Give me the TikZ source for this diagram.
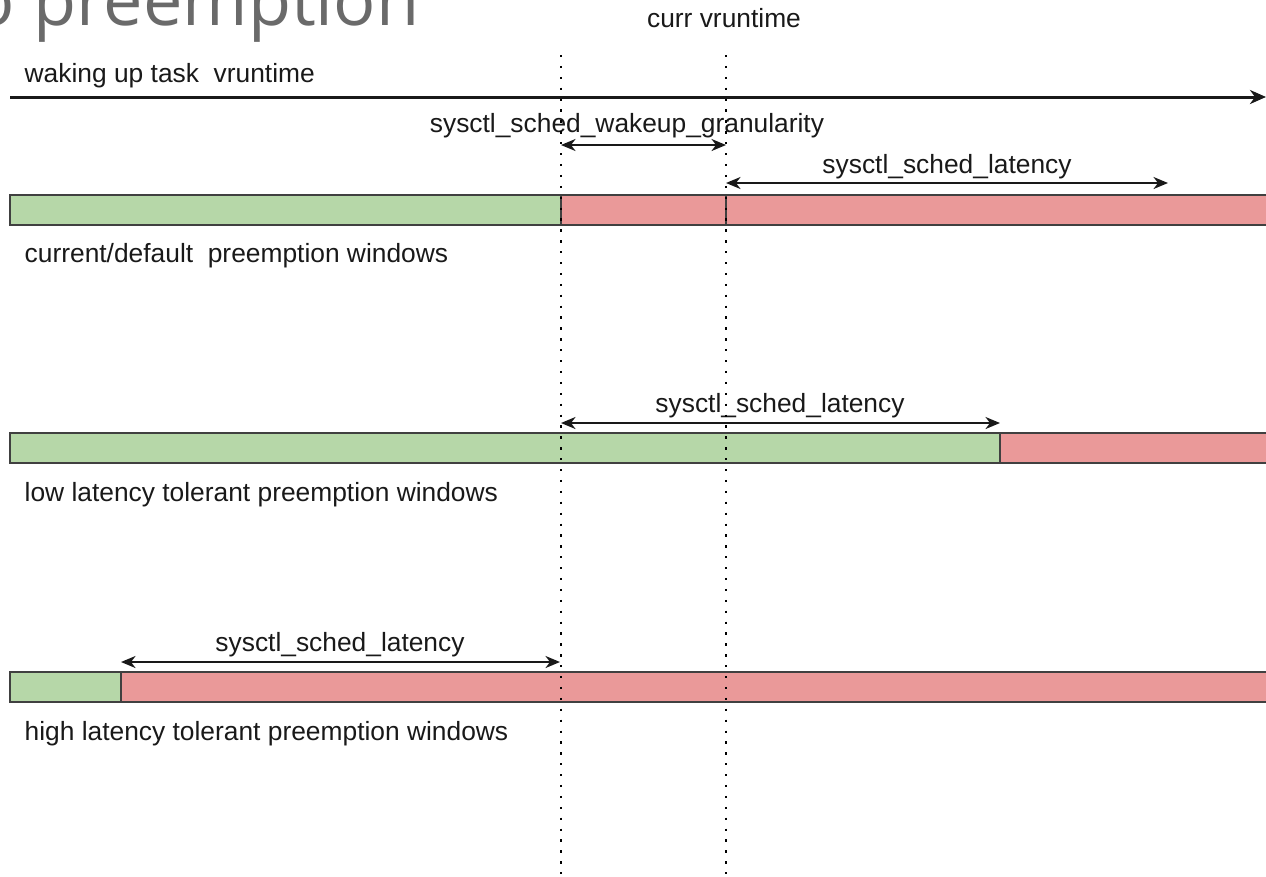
\documentclass[tikz,border=0pt]{standalone}
\usepackage{fontspec}
\setmainfont{Liberation Sans}
\newfontfamily\headfont{Open Sans}
\usetikzlibrary{arrows.meta,positioning}
\definecolor{okgreen}{HTML}{B6D7A8}
\definecolor{latered}{HTML}{EA9999}
\definecolor{barline}{HTML}{404040}
\definecolor{headgray}{HTML}{6A6A6A}
\tikzstyle{line} = [draw, {Stealth[length=1.45mm,width=1.2mm,inset=0.45mm]}-{Stealth[length=1.45mm,width=1.2mm,inset=0.45mm]},
     line width=0.6pt, color=black!90]
\tikzstyle{wake} = [draw, -{Stealth[length=1.6mm,width=1.4mm,inset=0.5mm]}, line width=0.85pt, color=black!90]
\tikzstyle{guide} = [draw, line width=0.65pt, dash pattern=on 0.65pt off 2.45pt]
\tikzstyle{ok} = [rectangle, minimum height=3mm, inner sep=0pt, outer sep=0pt, anchor=north west,
     draw=barline, line width=0.45pt, fill=okgreen]
\tikzstyle{late} = [rectangle, minimum height=3mm, inner sep=0pt, outer sep=0pt, anchor=north west,
     draw=barline, line width=0.45pt, fill=latered]
\tikzstyle{lbl} = [inner sep=0pt, anchor=base west, text=black!90]
\tikzstyle{dimtext} = [inner sep=0pt, anchor=base, text=black!90]
\tikzstyle{heading} = [inner sep=0pt, anchor=base east, text=headgray, font=\headfont\fontsize{20}{24}\selectfont]

\begin{document}
\begin{tikzpicture}[x=0.1mm,y=-0.1mm]
\clip (0,0) rectangle (1266,876);
\fontsize{7.5}{9}\selectfont

% what is left of the slide title
\node (title) [heading] at (420,25) {o preemption};
\node (currlbl) [dimtext] at (724,27) {curr vruntime};

% waking up task vruntime axis
\coordinate (wakestart) at (10,97);
\coordinate (wakeend) at (1266,97);
\path [wake] (wakestart) -- (wakeend);
\node (wakelbl) [lbl] at (24,82) {waking up task~~vruntime};

% current/default windows
\node (ok1) [ok, minimum width=55.1mm] at (10,195) {};
\node (late1) [late, minimum width=16.5mm] at (ok1.north east) {};
\node (late1b) [late, minimum width=56mm] at (late1.north east) {};
\node (lbl1) [lbl] at (24,262) {current/default~~preemption windows};

\coordinate (granL) at (561,145);
\coordinate (granR) at (726,145);
\path [line] (granL) -- (granR);
\node (granlbl) [dimtext] at (627,132) {sysctl\_sched\_wakeup\_granularity};

\coordinate (lat1L) at (726,183);
\coordinate (lat1R) at (1168,183);
\path [line] (lat1L) -- (lat1R);
\node (lat1lbl) [dimtext] at (947,173) {sysctl\_sched\_latency};

% low latency tolerant
\node (ok2) [ok, minimum width=99mm] at (10,433) {};
\node (late2) [late, minimum width=30mm] at (ok2.north east) {};
\node (lbl2) [lbl] at (24,501) {low latency tolerant preemption windows};

\coordinate (lat2L) at (561,423);
\coordinate (lat2R) at (1000,423);
\path [line] (lat2L) -- (lat2R);
\node (lat2lbl) [dimtext] at (780,412) {sysctl\_sched\_latency};

% high latency tolerant
\node (ok3) [ok, minimum width=11.1mm] at (10,672) {};
\node (late3) [late, minimum width=120mm] at (ok3.north east) {};
\node (lbl3) [lbl] at (24,740) {high latency tolerant preemption windows};

\coordinate (lat3L) at (121,662);
\coordinate (lat3R) at (560,662);
\path [line] (lat3L) -- (lat3R);
\node (lat3lbl) [dimtext] at (340,651) {sysctl\_sched\_latency};

% dotted guides over everything
\coordinate (prevtop) at (561,55);
\coordinate (prevbot) at (561,876);
\coordinate (currtop) at (726,55);
\coordinate (currbot) at (726,876);
\path [guide] (prevtop) -- (prevbot);
\path [guide] (currtop) -- (currbot);

\end{tikzpicture}
\end{document}
